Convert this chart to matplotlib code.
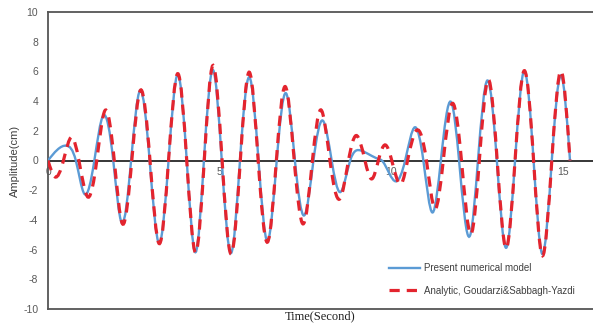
import matplotlib
matplotlib.use("Agg")
import matplotlib.pyplot as plt
import numpy as np
from matplotlib.path import Path
from matplotlib.patches import PathPatch
from matplotlib.lines import Line2D

# Present numerical model (extrema and zero crossings)
t_model = [0.0, 0.54, 0.81, 1.06, 1.35, 1.61, 1.90, 2.15, 2.42, 2.68, 2.96, 3.24, 3.51,
           3.78, 4.04, 4.30, 4.54, 4.80, 5.06, 5.33, 5.59, 5.86, 6.13, 6.39, 6.66, 6.93,
           7.19, 7.46, 7.73, 8.00, 8.26, 8.50, 8.80, 9.11, 9.62, 9.72, 10.14, 10.40, 10.69,
           10.93, 11.20, 11.44, 11.74, 11.97, 12.29, 12.52, 12.80, 13.07, 13.34, 13.60,
           13.87, 14.14, 14.39, 14.67, 14.94, 15.20]
a_model = [0.0, 1.0, 0.0, -2.25, 0.0, 3.03, 0.0, -4.2, 0.0, 4.71, 0.0, -5.57, 0.0,
           5.79, 0.0, -6.17, 0.0, 6.1, 0.0, -6.24, 0.0, 5.61, 0.0, -5.43, 0.0, 4.53,
           0.0, -3.7, 0.0, 2.69, 0.0, -2.13, 0.0, 0.67, 0.11, 0.0, -1.4, 0.0, 2.24,
           0.0, -3.5, 0.0, 3.93, 0.0, -5.05, 0.0, 5.39, 0.0, -5.88, 0.0,
           6.02, 0.0, -6.29, 0.0, 5.72, 0.0]

# Analytic, Goudarzi & Sabbagh-Yazdi
t_anal = [0.0, 0.20, 0.45, 0.69, 0.90, 1.17, 1.42, 1.66, 1.93, 2.17, 2.44, 2.70, 2.97,
          3.24, 3.51, 3.78, 4.04, 4.30, 4.55, 4.80, 5.07, 5.33, 5.60, 5.86, 6.12, 6.39,
          6.65, 6.90, 7.17, 7.43, 7.70, 7.94, 8.21, 8.50, 8.75, 8.97, 9.23, 9.43, 9.62,
          9.82, 10.01, 10.30, 10.47, 10.74, 11.02, 11.27, 11.51, 11.78, 12.04, 12.32,
          12.56, 12.82, 13.08, 13.34, 13.60, 13.87, 14.14, 14.39, 14.67, 14.94, 15.20]
a_anal = [0.0, -1.1, 0.0, 1.57, 0.0, -2.47, 0.0, 3.37, 0.0, -4.27, 0.0, 4.75, 0.0,
          -5.6, 0.0, 5.85, 0.0, -6.2, 0.0, 6.4, 0.0, -6.3, 0.0, 5.95, 0.0, -5.5,
          0.0, 4.98, 0.0, -4.27, 0.0, 3.41, 0.0, -2.58, 0.0, 1.68, 0.0, -1.24, 0.0,
          1.05, 0.0, -1.53, 0.0, 2.05, 0.0, -3.25, 0.0, 3.85, 0.0, -4.95,
          0.0, 5.45, 0.0, -5.9, 0.0, 6.05, 0.0, -6.4, 0.0, 6.02, 0.0]

y_ticks = [-10, -8, -6, -4, -2, 0, 2, 4, 6, 8, 10]
x_ticks = [0, 5, 10, 15]

BLUE = "#5B9BD5"
RED = "#E3242E"
GREY = "#595959"


def smooth_path(x, y):
    """Smoothed line drawn as cubic Bezier segments through the data points
    (natural cubic spline slopes)."""
    x = np.asarray(x, float)
    y = np.asarray(y, float)
    n = len(x)
    h = np.diff(x)
    d = np.diff(y) / h
    A = np.zeros((n, n))
    b = np.zeros(n)
    A[0, 0], A[0, 1], b[0] = 2.0, 1.0, 3.0 * d[0]
    A[-1, -2], A[-1, -1], b[-1] = 1.0, 2.0, 3.0 * d[-1]
    for i in range(1, n - 1):
        A[i, i - 1] = h[i]
        A[i, i] = 2.0 * (h[i - 1] + h[i])
        A[i, i + 1] = h[i - 1]
        b[i] = 3.0 * (h[i] * d[i - 1] + h[i - 1] * d[i])
    m = np.linalg.solve(A, b)
    verts = [(x[0], y[0])]
    codes = [Path.MOVETO]
    for i in range(n - 1):
        c1 = (x[i] + h[i] / 3.0, y[i] + m[i] * h[i] / 3.0)
        c2 = (x[i + 1] - h[i] / 3.0, y[i + 1] - m[i + 1] * h[i] / 3.0)
        verts += [c1, c2, (x[i + 1], y[i + 1])]
        codes += [Path.CURVE4] * 3
    return Path(verts, codes)


fig = plt.figure(figsize=(5.93, 3.27), dpi=100)
ax = fig.add_axes([48 / 593, 18 / 327, 1 - 48 / 593, 297 / 327])
ax.set_xlim(0, 15.87)
ax.set_ylim(-10, 10)

ax.axhline(0, color="black", lw=1.1, zorder=1)

ax.add_patch(PathPatch(smooth_path(t_model, a_model), fill=False, edgecolor=BLUE,
                       lw=1.7, zorder=3))
ax.add_patch(PathPatch(smooth_path(t_anal, a_anal), fill=False, edgecolor=RED,
                       lw=2.3, linestyle=(0, (3.2, 2.2)), zorder=4))

for s in ["top", "bottom", "left"]:
    ax.spines[s].set_color("#555555")
    ax.spines[s].set_linewidth(1.3)
ax.spines["right"].set_visible(False)

ax.set_yticks(y_ticks)
ax.set_yticklabels([str(v) for v in y_ticks], fontfamily="Liberation Sans",
                   fontsize=7.5, color=GREY)
ax.tick_params(axis="y", length=0, pad=7)
ax.set_xticks([])

for v in x_ticks:
    ax.annotate(str(v), xy=(v, 0), xytext=(0, -5), textcoords="offset points",
                ha="center", va="top", fontfamily="Liberation Sans", fontsize=7.5,
                color=GREY, zorder=2)

ax.set_ylabel("Amplitude(cm)", fontfamily="Liberation Sans", fontsize=8,
              color="#404040", labelpad=2)
ax.set_xlabel("Time(Second)", fontfamily="Liberation Serif", fontsize=9,
              color="#202020", labelpad=1)

handles = [Line2D([], [], color=BLUE, lw=1.7),
           Line2D([], [], color=RED, lw=2.3, linestyle=(0, (3.2, 2.2)))]
leg = ax.legend(handles, ["Present numerical model", "Analytic, Goudarzi&Sabbagh-Yazdi"],
                loc="lower left", bbox_to_anchor=(0.61, 0.015), frameon=False,
                prop={"family": "Liberation Sans", "size": 7}, handlelength=3.2,
                handletextpad=0.4, labelspacing=1.3)
for txt in leg.get_texts():
    txt.set_color("#404040")

fig.savefig("out.png", dpi=100)
